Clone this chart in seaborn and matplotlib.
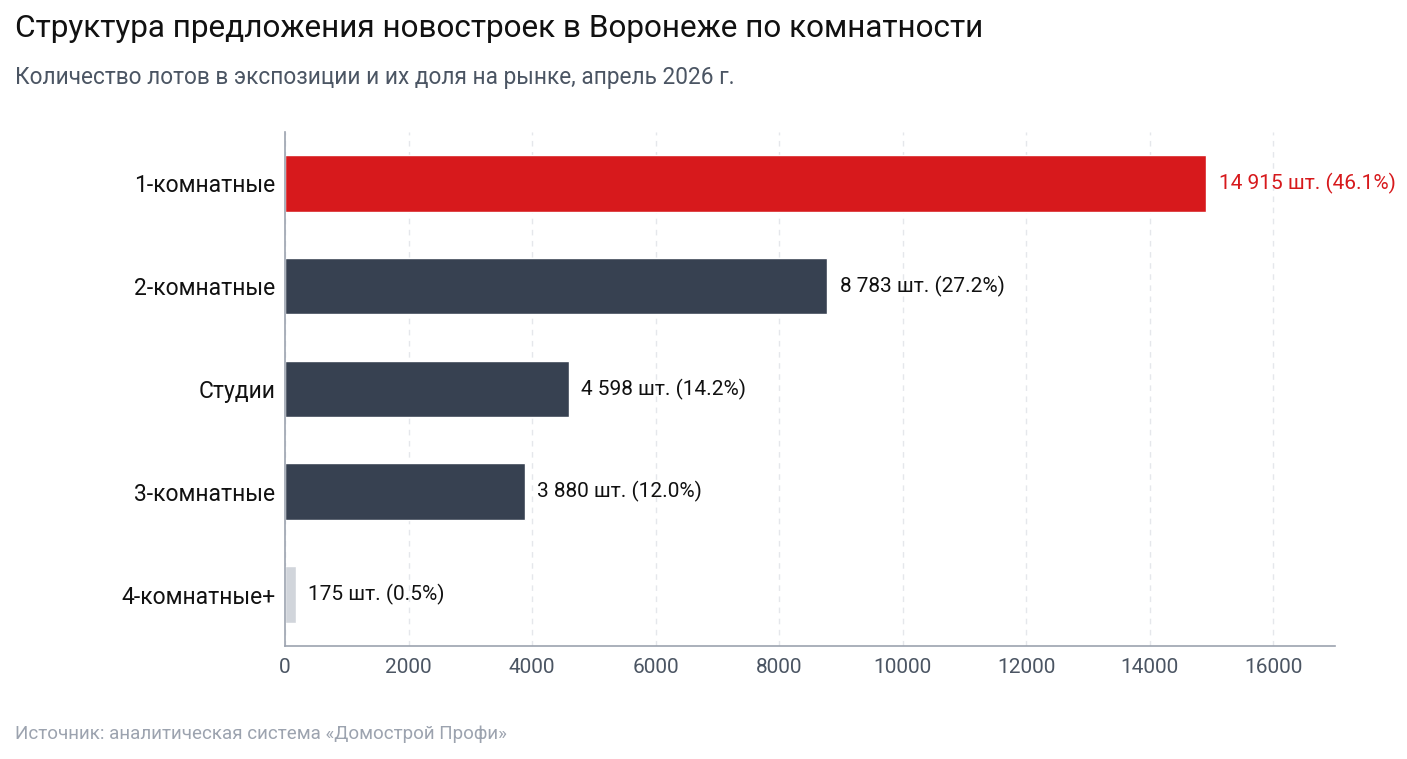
import matplotlib
matplotlib.use("Agg")
import matplotlib.pyplot as plt
import seaborn as sns
import pandas as pd

categories = ["1-комнатные", "2-комнатные", "Студии", "3-комнатные", "4-комнатные+"]
values = [14915, 8783, 4598, 3880, 175]
shares = [46.1, 27.2, 14.2, 12.0, 0.5]
colors = ["#D7191C", "#374151", "#374151", "#374151", "#D1D5DB"]
label_colors = ["#D7191C", "#111111", "#111111", "#111111", "#111111"]
xticks = [0, 2000, 4000, 6000, 8000, 10000, 12000, 14000, 16000]

sns.set_theme(style="white")
plt.rcParams["font.family"] = ["Roboto", "DejaVu Sans"]

df = pd.DataFrame({"cat": categories, "val": values})

fig = plt.figure(figsize=(14.07, 7.59), dpi=100)
ax = fig.add_axes([0.2026, 0.149, 0.7462, 0.677])
sns.barplot(data=df, x="val", y="cat", hue="cat", palette=colors, legend=False,
            width=0.55, ax=ax, saturation=1)

ax.set_xlim(0, 17000)
ax.set_xticks(xticks)
ax.set_xticklabels([str(t) for t in xticks])
ax.set_xlabel("")
ax.set_ylabel("")
ax.xaxis.grid(True, linestyle=(0, (4, 4)), color="#E5E7EB", linewidth=1)
ax.set_axisbelow(True)
for s in ["top", "right"]:
    ax.spines[s].set_visible(False)
for s in ["left", "bottom"]:
    ax.spines[s].set_color("#9CA3AF")
    ax.spines[s].set_linewidth(1.2)
ax.tick_params(axis="x", colors="#4B5563", labelsize=15, length=5, width=1.2, color="#9CA3AF")
ax.tick_params(axis="y", labelsize=16.5, length=0, pad=7, labelcolor="#111111")

for i, (v, s) in enumerate(zip(values, shares)):
    txt = f"{v:,}".replace(",", " ") + f" шт. ({s:.1f}%)"
    ax.text(v + 200, i, txt, va="center", ha="left", fontsize=15, color=label_colors[i])

fig.text(0.011, 0.962, "Структура предложения новостроек в Воронеже по комнатности",
         fontsize=22.7, color="#111111", va="center", ha="left")
fig.text(0.011, 0.898, "Количество лотов в экспозиции и их доля на рынке, апрель 2026 г.",
         fontsize=16.3, color="#4B5563", va="center", ha="left")
fig.text(0.011, 0.033, "Источник: аналитическая система «Домострой Профи»",
         fontsize=13.5, color="#9CA3AF", va="center", ha="left")

fig.savefig("out.png", dpi=100)
